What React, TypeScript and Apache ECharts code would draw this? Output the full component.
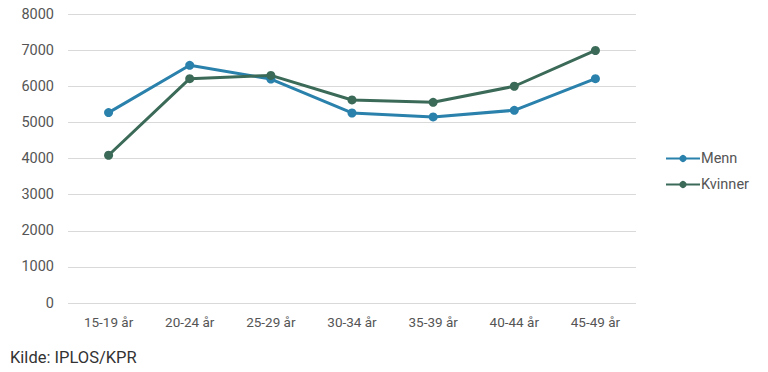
import React, { useEffect, useRef } from "react";
import * as echarts from "echarts";

const categories = ["15-19 år", "20-24 år", "25-29 år", "30-34 år", "35-39 år", "40-44 år", "45-49 år"];
const menn = [5270, 6580, 6200, 5260, 5150, 5335, 6210];
const kvinner = [4090, 6210, 6300, 5620, 5555, 6000, 6990];
const yTicks = { min: 0, max: 8000, interval: 1000 };
const sourceText = "Kilde: IPLOS/KPR";

export default function App() {
  const ref = useRef<HTMLDivElement>(null);
  useEffect(() => {
    if (!ref.current) return;
    const chart = echarts.init(ref.current, null, { renderer: "svg" });
    const textColor = "#555555";
    chart.setOption({
      animation: false,
      textStyle: { fontFamily: "Roboto" },
      grid: { left: 68, right: 132, top: 14, bottom: 69 },
      xAxis: {
        type: "category",
        data: categories,
        boundaryGap: true,
        axisLine: { show: false },
        axisTick: { show: false },
        axisLabel: { color: textColor, fontSize: 13.5, margin: 12, fontFamily: "Roboto" },
      },
      yAxis: {
        type: "value",
        min: yTicks.min,
        max: yTicks.max,
        interval: yTicks.interval,
        axisLine: { show: false },
        axisTick: { show: false },
        axisLabel: {
          color: textColor,
          fontSize: 14.5,
          margin: 14,
          fontFamily: "Roboto",
          formatter: (v: number) => String(v),
        },
        splitLine: { lineStyle: { color: "#d9d9d9", width: 1 } },
      },
      legend: {
        orient: "vertical",
        left: 660,
        top: 146,
        itemGap: 11,
        itemWidth: 34,
        itemHeight: 9,
        textStyle: { color: textColor, fontSize: 14.5, fontFamily: "Roboto", padding: [0, 0, 0, -4] },
        data: ["Menn", "Kvinner"],
      },
      graphic: [
        {
          type: "text",
          left: 10,
          top: 349,
          style: { text: sourceText, fill: "#333", fontSize: 16.5, fontFamily: "Roboto" },
        },
      ],
      series: [
        {
          name: "Menn",
          type: "line",
          data: menn,
          symbol: "circle",
          symbolSize: 9,
          lineStyle: { width: 3, color: "#2a81ab" },
          itemStyle: { color: "#2a81ab" },
        },
        {
          name: "Kvinner",
          type: "line",
          data: kvinner,
          symbol: "circle",
          symbolSize: 9,
          lineStyle: { width: 3, color: "#3b6a58" },
          itemStyle: { color: "#3b6a58" },
        },
      ],
    });
    return () => chart.dispose();
  }, []);
  return <div ref={ref} style={{ position: "absolute", left: 0, top: 0, width: 768, height: 372 }} />;
}
